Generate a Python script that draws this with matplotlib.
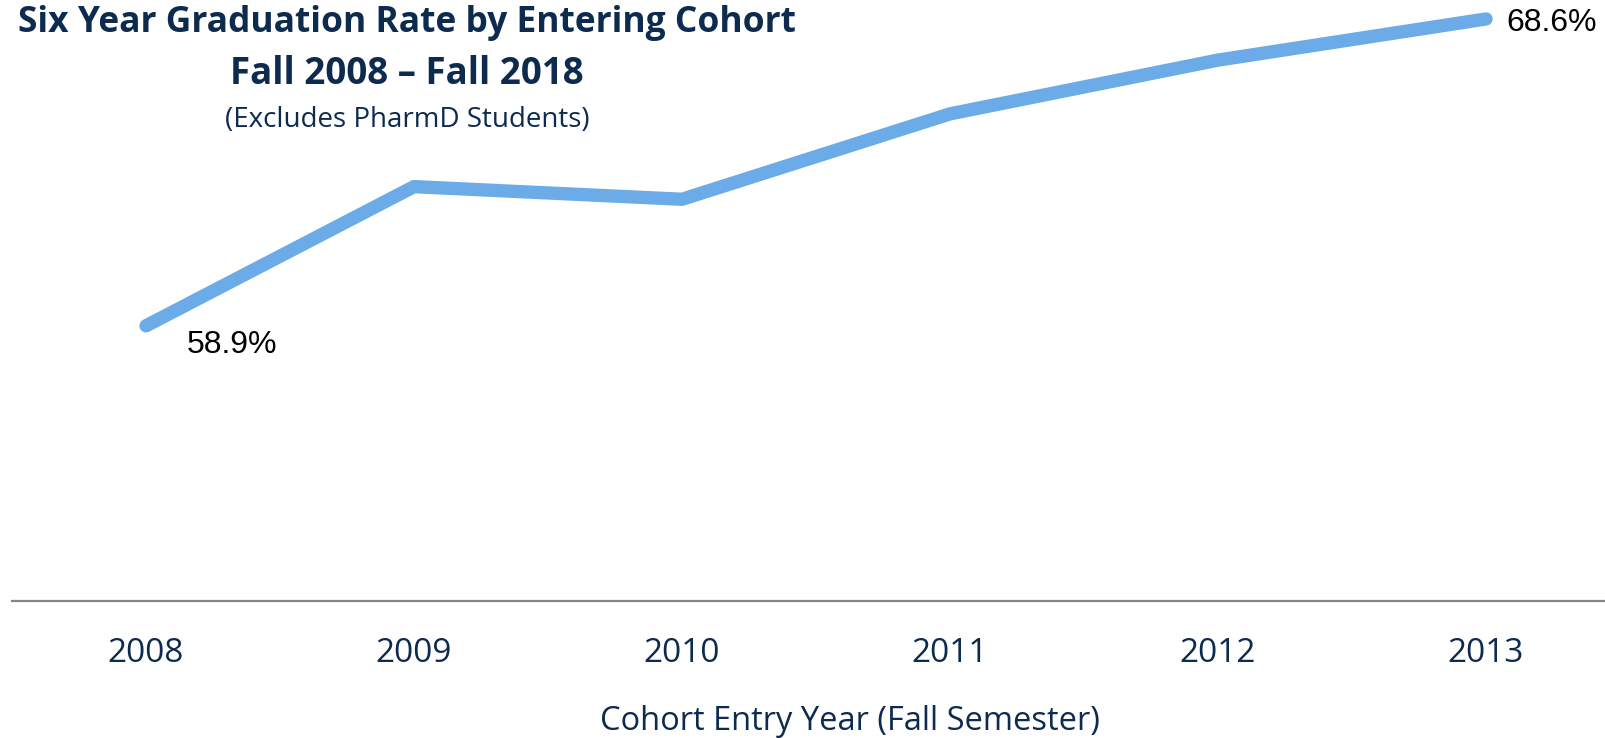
import matplotlib.pyplot as plt

# Дані
years = ['2008', '2009', '2010', '2011', '2012', '2013']
rates = [58.9, 63.3, 62.9, 65.6, 67.3, 68.6]

navy = '#0d2a4f'
line_color = '#6aabe8'
narrow = ['Liberation Sans Narrow', 'Open Sans', 'DejaVu Sans']

fig = plt.figure(figsize=(16.06, 7.38), dpi=100)
ax = fig.add_axes([12 / 1606, 1 - 601 / 738, 6 * 268 / 1606, 601 / 738])

x = range(len(years))
ax.plot(x, rates, color=line_color, linewidth=9.6, solid_capstyle='round',
        solid_joinstyle='round')

ax.set_xlim(-0.5, 5.5)
ax.set_ylim(50.2, 69.2)

for s in ['top', 'right', 'left']:
    ax.spines[s].set_visible(False)
ax.spines['bottom'].set_color('#868686')
ax.spines['bottom'].set_linewidth(1.6)
ax.set_yticks([])
ax.set_xticks(list(x))
ax.set_xticklabels(years, fontsize=24, color=navy, family=narrow)
ax.tick_params(axis='x', length=0, pad=26)
ax.set_xlabel('Cohort Entry Year (Fall Semester)', fontsize=23.5, color=navy,
              family=narrow, labelpad=25)
ax.xaxis.label.set_x((850 - 12) / 1608)

# Підписи першої та останньої точки
ax.annotate(f'{rates[0]}%', (0, rates[0]), xytext=(29, -14), textcoords='offset points',
            fontsize=23, family='Liberation Sans', va='center', ha='left')
ax.annotate(f'{rates[-1]}%', (5, rates[-1]), xytext=(15, -3), textcoords='offset points',
            fontsize=23, family='Liberation Sans', va='center', ha='left')

# Заголовок
cx = 407 / 1606
fig.text(cx, 1 - 23 / 738, 'Six Year Graduation Rate by Entering Cohort', fontsize=25.5,
         fontweight='bold', color=navy, family=narrow, ha='center', va='center')
fig.text(cx, 1 - 74 / 738, 'Fall 2008 \u2013 Fall 2018', fontsize=26.5,
         fontweight='bold', color=navy, family=narrow, ha='center', va='center')
fig.text(cx, 1 - 120 / 738, '(Excludes PharmD Students)', fontsize=20,
         color=navy, family=narrow, ha='center', va='center')

fig.savefig('out.png', dpi=100)
